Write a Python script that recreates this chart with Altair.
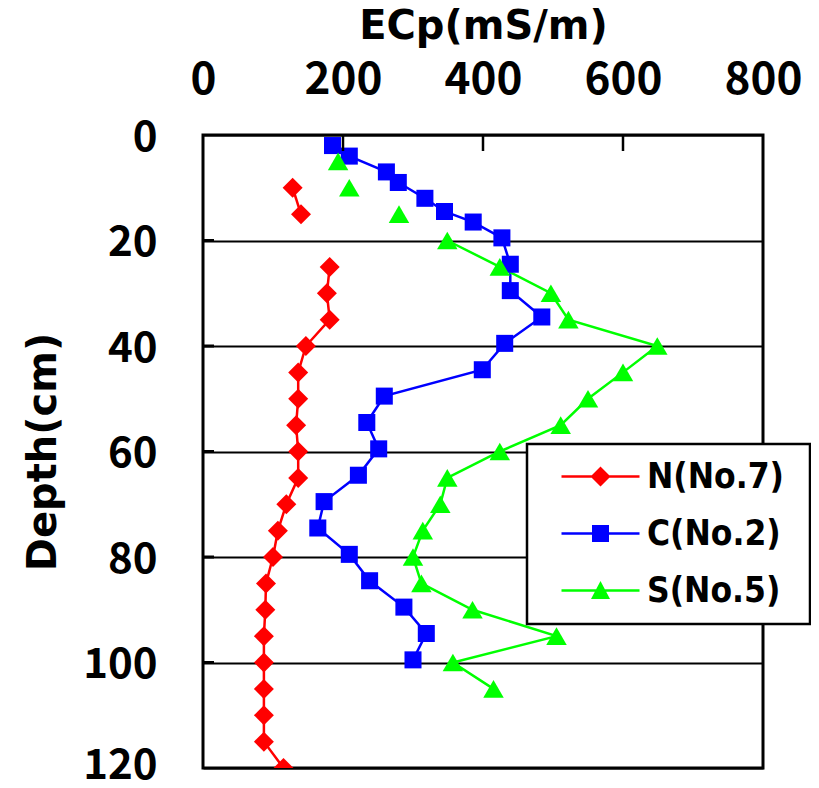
import altair as alt
import pandas as pd

# ---- data ----
series_names = ["N(No.7)", "C(No.2)", "S(No.5)"]
series_colors = ["#FF0000", "#0000FF", "#00FF00"]

depth_N = [10, 15, 25, 30, 35, 40, 45, 50, 55, 60, 65, 70, 75, 80, 85, 90, 95, 100, 105, 110, 115, 120]
ecp_N = [128, 140, 181, 177, 181, 147, 136, 136, 133, 136, 136, 119, 107, 100, 90, 89, 87, 87, 87, 87, 87, 115]
seg_N = [0, 0] + [1] * 20

depth_C = [2, 4, 7, 9, 12, 14.5, 16.5, 19.5, 24.5, 29.5, 34.5, 39.5, 44.5, 49.5, 54.5, 59.5,
           64.5, 69.5, 74.5, 79.5, 84.5, 89.5, 94.5, 99.5]
ecp_C = [185, 209, 262, 279, 317, 345, 386, 427, 439, 439, 484, 431, 399, 259, 234, 251,
         222, 173, 164, 209, 238, 287, 319, 300]
seg_C = [0] * 24

depth_S = [5, 10, 15, 20, 25, 30, 35, 40, 45, 50, 55, 60, 65, 70, 75, 80, 85, 90, 95, 100, 105]
ecp_S = [193, 209, 280, 349, 424, 497, 522, 649, 600, 550, 511, 424, 349, 339, 314, 300,
         312, 385, 505, 357, 415]
seg_S = [0, 1, 2] + [3] * 18

x_ticks = [0, 200, 400, 600, 800]
y_ticks = [0, 20, 40, 60, 80, 100, 120]
inner_x_ticks = [200, 400, 600]
inner_y_ticks = [20, 40, 60, 80, 100]

marker_shapes = ["diamond", "square", "triangle-up"]
marker_sizes = [400, 290, 420]

# legend symbols: line + marker, drawn as one path each (trailing move widens the legend box)
legend_paths = [
    "M-3.9,-0.13 H3.9 V0.13 H-3.9 Z M0,-1 L1,0 L0,1 L-1,0 Z M19.4,0",
    "M-3.9,-0.13 H3.9 V0.13 H-3.9 Z M-0.85,-0.85 H0.85 V0.85 H-0.85 Z M19.4,0",
    "M-3.9,-0.13 H3.9 V0.13 H-3.9 Z M0,-0.95 L0.95,0.85 L-0.95,0.85 Z M19.4,0",
]

rows = []
for name, ds, vs, ss in [(series_names[0], depth_N, ecp_N, seg_N),
                         (series_names[1], depth_C, ecp_C, seg_C),
                         (series_names[2], depth_S, ecp_S, seg_S)]:
    for d, v, s in zip(ds, vs, ss):
        rows.append({"series": name, "depth": d, "ecp": v, "seg": f"{name}-{s}"})
df = pd.DataFrame(rows)

TICK_FONT = "Noto Sans CJK JP, DejaVu Sans Condensed, sans-serif"
TITLE_FONT = "DejaVu Sans, sans-serif"
LEGEND_FONT = "DejaVu Sans Condensed, DejaVu Sans, sans-serif"

x_scale = alt.Scale(domain=[0, 800], nice=False, zero=False)
y_scale = alt.Scale(domain=[0, 120], reverse=True, nice=False, zero=False)

x_enc = alt.X("ecp:Q", scale=x_scale,
              axis=alt.Axis(orient="top", values=x_ticks, title="ECp(mS/m)", grid=False,
                            ticks=False, domain=False, labelFont=TICK_FONT, labelFontSize=44,
                            labelFontWeight="bold", labelColor="black", labelPadding=33,
                            titleFont=TITLE_FONT, titleFontSize=40, titleFontWeight="bold",
                            titleColor="black", titlePadding=12, labelFlush=False))
y_enc = alt.Y("depth:Q", scale=y_scale,
              axis=alt.Axis(values=y_ticks, title="Depth(cm)", grid=True, gridColor="black",
                            gridWidth=2, gridOpacity=1, ticks=False, domain=False,
                            labelFont=TICK_FONT, labelFontSize=42, labelFontWeight="bold",
                            labelColor="black", labelPadding=46,
                            labelOffset={"condition": {"test": "datum.value === 120", "value": -3},
                                         "value": 2},
                            titleFont=TITLE_FONT,
                            titleFontSize=40, titleFontWeight="bold", titleColor="black",
                            titlePadding=19, labelFlush=False))

color_scale = alt.Scale(domain=series_names, range=series_colors)
legend_cfg = dict(title=None, orient="none", legendX=324, legendY=309)

base = alt.Chart(df)

# legend-only layer (no data drawn); placed first so its legend settings win the merge
legend_layer = base.mark_point(filled=True, opacity=1).encode(
    x=x_enc, y=y_enc,
    color=alt.Color("series:N", scale=color_scale, legend=alt.Legend(**legend_cfg)),
    shape=alt.Shape("series:N", scale=alt.Scale(domain=series_names, range=legend_paths),
                    legend=alt.Legend(**legend_cfg)),
).transform_filter("false")

lines = base.mark_line(strokeWidth=2.5, clip=True).encode(
    x="ecp:Q", y="depth:Q",
    color=alt.Color("series:N", scale=color_scale, legend=None),
    detail="seg:N",
    order=alt.Order("depth:Q"),
)

point_layers = []
for name, shp, sz in zip(series_names, marker_shapes, marker_sizes):
    point_layers.append(
        base.mark_point(shape=shp, size=sz, filled=True, opacity=1, clip=True).encode(
            x="ecp:Q", y="depth:Q",
            color=alt.Color("series:N", scale=color_scale, legend=None),
        ).transform_filter(alt.datum.series == name)
    )

tick_df = pd.DataFrame({"t": inner_x_ticks})
top_ticks = alt.Chart(tick_df).mark_rule(color="black", strokeWidth=2.5).encode(
    x=alt.X("t:Q", scale=x_scale), y=alt.value(0), y2=alt.value(16))

ytick_df = pd.DataFrame({"t": inner_y_ticks})
left_ticks = alt.Chart(ytick_df).mark_rule(color="black", strokeWidth=3).encode(
    y=alt.Y("t:Q", scale=y_scale), x=alt.value(0), x2=alt.value(11))

chart = alt.layer(legend_layer, lines, *point_layers, top_ticks, left_ticks).properties(
    width=560, height=633,
    autosize=alt.AutoSizeParams(type="none"),
    padding={"left": 195, "top": 127, "right": 48, "bottom": 12},
).configure_view(
    stroke="black", strokeWidth=3
).configure_legend(
    strokeColor="black", strokeWidth=2.5, fillColor="white", padding=15,
    symbolSize=400, symbolStrokeWidth=0, symbolOffset=41, labelOffset=29,
    rowPadding=21, labelFont=LEGEND_FONT, labelFontSize=35, labelFontWeight="bold",
    labelColor="black", labelLimit=400,
)

chart.save("out.html", embed_options={"renderer": "svg", "actions": False})
